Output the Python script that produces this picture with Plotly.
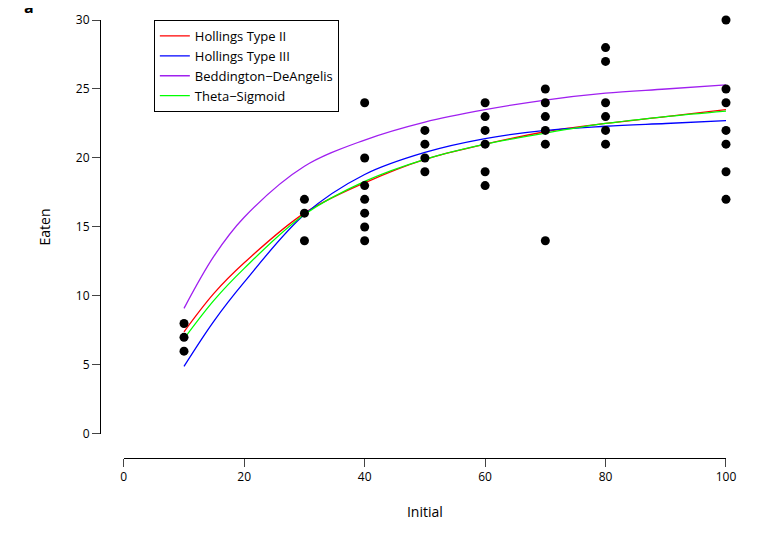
import plotly.graph_objects as go

# observed data
initial = [10, 10, 10, 30, 30, 30, 40, 40, 40, 40, 40, 40, 40,
           50, 50, 50, 50, 60, 60, 60, 60, 60, 60,
           70, 70, 70, 70, 70, 70, 80, 80, 80, 80, 80, 80,
           100, 100, 100, 100, 100, 100, 100]
eaten = [6, 7, 8, 14, 16, 17, 14, 15, 16, 17, 18, 20, 24,
         19, 20, 21, 22, 18, 19, 21, 22, 23, 24,
         14, 21, 22, 23, 24, 25, 21, 22, 23, 24, 27, 28,
         17, 19, 21, 22, 24, 25, 30]

# fitted curves
xfit = [10, 15, 20, 30, 40, 50, 60, 70, 80, 90, 100]
holl2 = [7.4, 10.2, 12.4, 16.0, 18.2, 19.9, 21.0, 21.9, 22.5, 23.0, 23.5]
holl3 = [4.9, 8.2, 11.0, 15.9, 18.8, 20.4, 21.4, 22.0, 22.3, 22.5, 22.7]
bda = [9.1, 12.9, 15.7, 19.4, 21.3, 22.6, 23.5, 24.2, 24.7, 25.0, 25.3]
theta = [6.9, 9.7, 12.0, 15.9, 18.3, 19.9, 21.0, 21.8, 22.5, 23.0, 23.4]

fig = go.Figure()
curves = [("Hollings Type II", holl2, "#ff0000"),
          ("Hollings Type III", holl3, "#0000ff"),
          ("Beddington\u2212DeAngelis", bda, "#a020f0"),
          ("Theta\u2212Sigmoid", theta, "#00ff00")]
for name, ys, col in curves:
    fig.add_trace(go.Scatter(x=xfit, y=ys, mode="lines", name=name,
                             line=dict(color=col, width=1.3, shape="spline")))
fig.add_trace(go.Scatter(x=initial, y=eaten, mode="markers", showlegend=False,
                         marker=dict(color="black", size=9), cliponaxis=False))

font = dict(family="Open Sans, DejaVu Sans", size=12, color="black")
fig.update_layout(
    width=757, height=540, plot_bgcolor="white", paper_bgcolor="white",
    margin=dict(l=92, r=39, t=12, b=90, autoexpand=False), font=font,
    xaxis=dict(range=[0, 100], domain=[0.038, 1.0], anchor="free", position=0,
               tickvals=[0, 20, 40, 60, 80, 100], showline=True, linecolor="black",
               ticks="outside", ticklen=8, showgrid=False, zeroline=False,
               automargin=False,
               title=dict(text="Initial", font=dict(size=14), standoff=22)),
    yaxis=dict(range=[0, 30], domain=[0.055, 1.0], anchor="free", position=0,
               tickvals=[0, 5, 10, 15, 20, 25, 30], showline=True, linecolor="black",
               ticks="outside", ticklen=8, showgrid=False, zeroline=False,
               automargin=False,
               title=dict(text="Eaten", font=dict(size=14), standoff=20)),
    legend=dict(x=0.086, y=1.0, xanchor="left", yanchor="top",
                bordercolor="black", borderwidth=1, bgcolor="white",
                font=dict(size=13), tracegroupgap=0, itemwidth=30),
    annotations=[dict(text="<b>a</b>", xref="paper", yref="paper", x=-0.125, y=1.0,
                      xanchor="left", yanchor="bottom", showarrow=False,
                      font=dict(size=16))],
)
fig.write_html("out.html")
